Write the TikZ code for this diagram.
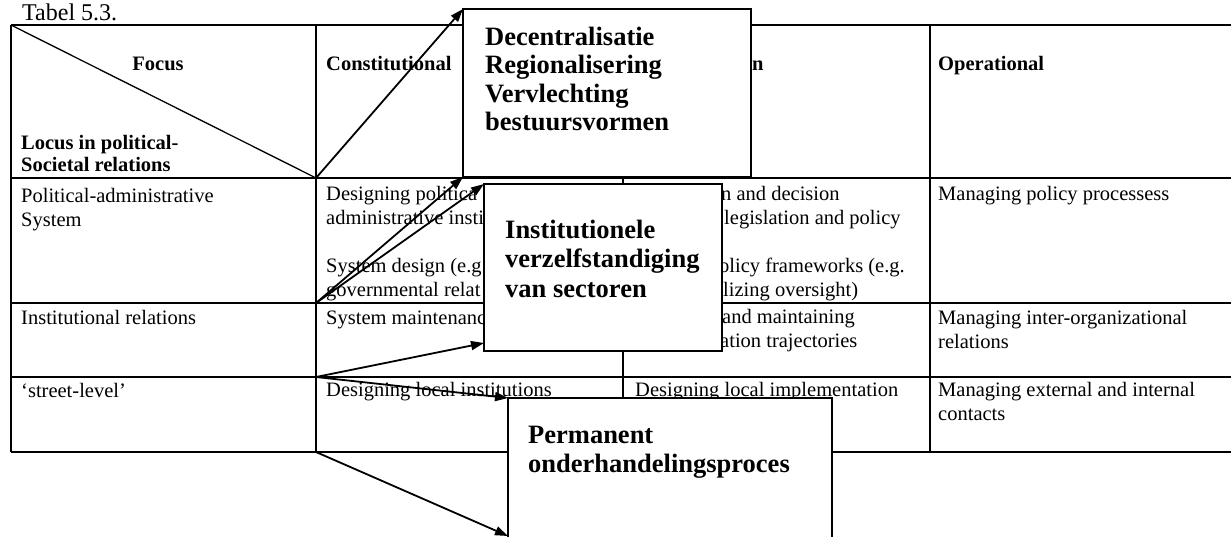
\documentclass[tikz,border=0pt]{standalone}
\usepackage{fontspec}
\setmainfont{Liberation Serif}
\usetikzlibrary{arrows.meta,calc}
\tikzset{
  gridline/.style={line width=1.3pt},
  celltext/.style={font=\fontsize{20.5}{24}\selectfont, anchor=base west, inner sep=0pt},
  cellbold/.style={font=\fontsize{20.5}{24}\selectfont\bfseries, anchor=base west, inner sep=0pt},
  boxtext/.style={font=\fontsize{26.5}{29}\selectfont\bfseries, anchor=base west, inner sep=0pt},
  bigbox/.style={draw, line width=2.2pt, fill=white, anchor=north west, inner sep=0pt, outer sep=0pt},
  arrowline/.style={line width=1.8pt, -{Triangle[length=13pt,width=9pt]}},
}
\begin{document}
\begin{tikzpicture}[x=1pt,y=-1pt]
\useasboundingbox (0,0) rectangle (1231,536);
\clip (0,0) rectangle (1231,536);
\fill[white] (0,0) rectangle (1231,536);

% table grid
\draw[gridline] (11,25) -- (1240,25);
\draw[gridline] (11,178) -- (1240,178);
\draw[gridline] (11,303) -- (1240,303);
\draw[gridline] (11,377) -- (1240,377);
\draw[gridline] (11,452) -- (1240,452);
\draw[gridline] (11,25) -- (11,452);
\draw[gridline] (316,25) -- (316,452);
\draw[gridline] (623,25) -- (623,452);
\draw[gridline] (930,25) -- (930,452);
\draw[gridline] (11,25) -- (316,178);

\coordinate (o1) at (316,178);
\coordinate (o2) at (316,303);
\coordinate (o3) at (316,377);
\coordinate (o4) at (316,452);

% title
\node[font=\fontsize{24}{28}\selectfont, anchor=base west, inner sep=0pt] (title) at (22,20) {Tabel 5.3.};

% header
\node[cellbold, anchor=base] (hfocus) at (158,70) {Focus};
\node[cellbold] (hconst) at (326,70) {Constitutional};
\node[cellbold] (hcol3) at (752,70) {n};
\node[cellbold] (hoper) at (938,70) {Operational};
\node[cellbold] (hlocA) at (21,149) {Locus in political-};
\node[cellbold] (hlocB) at (21,171) {Societal relations};

% row 1
\node[celltext] (r1a) at (21,202) {Political-administrative};
\node[celltext] (r1b) at (21,226) {System};
\node[celltext] (r1c) at (326,200) {Designing politica};
\node[celltext] (r1d) at (326,224) {administrative insti};
\node[celltext] (r1e) at (326,272) {System design (e.g};
\node[celltext] (r1f) at (326,296) {governmental relat};
\node[celltext] (r1g) at (721,200) {n and decision};
\node[celltext] (r1h) at (724,224) {legislation and policy};
\node[celltext] (r1i) at (719,272) {olicy frameworks (e.g.};
\node[celltext] (r1j) at (723,296) {lizing oversight)};
\node[celltext] (r1k) at (938,200) {Managing policy processess};

% row 2
\node[celltext] (r2a) at (21,324) {Institutional relations};
\node[celltext] (r2b) at (326,324) {System maintenanc};
\node[celltext] (r2c) at (722,323) {and maintaining};
\node[celltext] (r2d) at (720,347) {ation trajectories};
\node[celltext] (r2e) at (938,324) {Managing inter-organizational};
\node[celltext] (r2f) at (938,348) {relations};

% row 3
\node[celltext] (r3a) at (21,397) {‘street-level’};
\node[celltext] (r3b) at (326,396) {Designing local institutions};
\node[celltext] (r3c) at (635,396) {Designing local implementation};
\node[celltext] (r3d) at (938,396) {Managing external and internal};
\node[celltext] (r3e) at (938,420) {contacts};

% overlay boxes
\node[bigbox, minimum width=288pt, minimum height=168pt] (b1) at (463,9) {};
\node[boxtext] (b1a) at (485,45) {Decentralisatie};
\node[boxtext] (b1b) at (485,73.5) {Regionalisering};
\node[boxtext] (b1c) at (485,102) {Vervlechting};
\node[boxtext] (b1d) at (485,130.5) {bestuursvormen};

\node[bigbox, minimum width=238pt, minimum height=167pt] (b2) at (484,184) {};
\node[boxtext] (b2a) at (505,238) {Institutionele};
\node[boxtext] (b2b) at (505,267.5) {verzelfstandiging};
\node[boxtext] (b2c) at (505,297) {van sectoren};

\node[bigbox, minimum width=324pt, minimum height=170pt] (b3) at (508,398) {};
\node[boxtext] (b3a) at (528,443) {Permanent};
\node[boxtext] (b3b) at (528,472) {onderhandelingsproces};

% arrows
\draw[arrowline] (o1) -- (b1.north west);
\draw[arrowline] (o2) -- (b1.south west);
\draw[arrowline] (o2) -- (b2.north west);
\draw[arrowline] (o3) -- ($(b2.south west)+(0,-8)$);
\draw[arrowline] (o3) -- (b3.north west);
\draw[arrowline] (o4) -- ($(b3.north west)+(0,138)$);
\end{tikzpicture}
\end{document}
